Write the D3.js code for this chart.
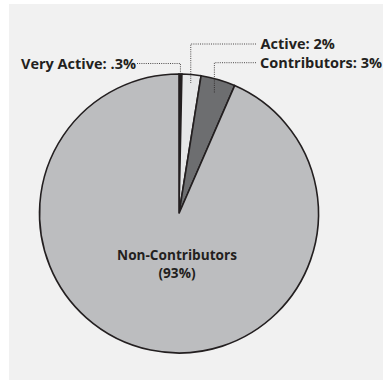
<!DOCTYPE html>
<html><head><meta charset="utf-8">
<script src="https://cdn.jsdelivr.net/npm/d3@7"></script>
<style>
html,body{margin:0;padding:0;background:#fff;}
svg{display:block;}
text{font-family:"Open Sans",sans-serif;font-weight:700;fill:#231f20;}
</style></head>
<body>
<svg id="chart" width="383" height="381"></svg>
<script>
const categories = ["Very Active", "Active", "Contributors", "Non-Contributors"];
const values = [0.33, 2.2, 4.0, 93.47];
const labels = ["Very Active: .3%", "Active: 2%", "Contributors: 3%", "Non-Contributors", "(93%)"];
const colors = ["#231f20", "#e6e7e8", "#6d6e70", "#bcbdbf"];

const svg = d3.select("#chart");
svg.append("rect").attr("x", 9).attr("y", 4).attr("width", 374).attr("height", 376).attr("fill", "#f1f1f1");

const cx = 179, cy = 213.5, R = 139.5;
const g = svg.append("g").attr("transform", `translate(${cx},${cy})`);
const data = categories.map((c, i) => ({name: c, value: values[i], color: colors[i]}));
const pie = d3.pie().value(d => d.value).sort(null);
const arcs = pie(data);
const arc = d3.arc().innerRadius(0).outerRadius(R);

g.selectAll("path.slice").data(arcs).join("path")
  .attr("class", "slice")
  .attr("d", arc)
  .attr("fill", d => d.data.color)
  .attr("stroke", "#231f20")
  .attr("stroke-width", 1.6)
  .attr("stroke-linejoin", "miter");

// leader lines
const leader = [
  {i: 0, r: R - 1, lx: 137, ly: 63.5},
  {i: 1, r: 131, lx: 256, ly: 44},
  {i: 2, r: 126, lx: 256, ly: 62.7}
];
const pt = (a, r) => [cx + r * Math.sin(a), cy - r * Math.cos(a)];
leader.forEach(l => {
  const a = arcs[l.i];
  const mid = (a.startAngle + a.endAngle) / 2;
  const [px, py] = pt(mid, l.r);
  svg.append("path")
    .attr("d", `M${l.lx},${l.ly}H${px}V${py}`)
    .attr("fill", "none")
    .attr("stroke", "#231f20")
    .attr("stroke-width", 0.8)
    .attr("stroke-dasharray", "1,1.2");
});

svg.append("text").attr("x", 136).attr("y", 68.5).attr("text-anchor", "end")
  .attr("font-size", 14.5).text(labels[0]);
svg.append("text").attr("x", 260.5).attr("y", 49).attr("font-size", 14.5).text(labels[1]);
svg.append("text").attr("x", 260).attr("y", 67.7).attr("font-size", 14.5).text(labels[2]);
svg.append("text").attr("text-anchor", "middle").attr("font-size", 13.6)
  .attr("x", 177).attr("y", 259.5).text(labels[3]);
svg.append("text").attr("text-anchor", "middle").attr("font-size", 13.6)
  .attr("x", 177).attr("y", 277.5).text(labels[4]);
</script>
</body></html>
